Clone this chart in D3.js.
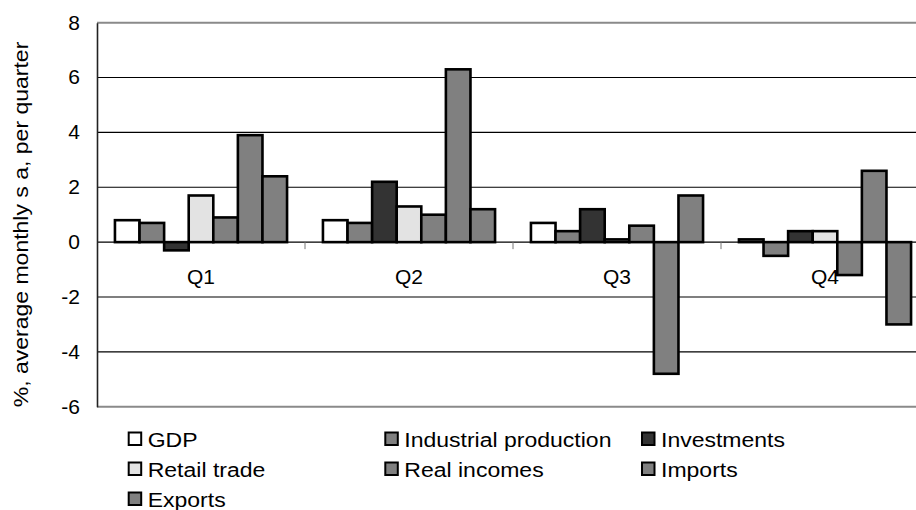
<!DOCTYPE html>
<html>
<head>
<meta charset="utf-8">
<script src="https://cdn.jsdelivr.net/npm/d3@7"></script>
<style>
  html, body { margin: 0; padding: 0; background: #fff; }
  svg { display: block; font-family: "Liberation Sans", Arial, sans-serif; }
</style>
</head>
<body>
<div id="chart"></div>
<script>
// Quarterly growth indicators, grouped bar chart

const quarters = ['Q1', 'Q2', 'Q3', 'Q4'];
const seriesNames = ['GDP', 'Industrial production', 'Investments', 'Retail trade',
                     'Real incomes', 'Imports', 'Exports'];

// values per series, one per quarter
const gdp = [0.8, 0.8, 0.7, 0.1];
const industrialProduction = [0.7, 0.7, 0.4, -0.5];
const investments = [-0.3, 2.2, 1.2, 0.4];
const retailTrade = [1.7, 1.3, 0.1, 0.4];
const realIncomes = [0.9, 1.0, 0.6, -1.2];
const imports = [3.9, 6.3, -4.8, 2.6];
const exportsVals = [2.4, 1.2, 1.7, -3.0];

const yTicks = [-6, -4, -2, 0, 2, 4, 6, 8];

const seriesValues = [gdp, industrialProduction, investments, retailTrade,
                      realIncomes, imports, exportsVals];
const seriesColors = ['#ffffff', '#808080', '#333333', '#e3e3e3', '#808080', '#808080', '#808080'];

const width = 916;
const height = 510;
const margin = { top: 22.7, left: 97, right: -13, bottom: 103.3 };
const fontSize = 20;

const svg = d3.select('#chart')
  .append('svg')
  .attr('width', width)
  .attr('height', height);

const plotW = width - margin.left - margin.right;
const plotH = height - margin.top - margin.bottom;

// widen text a little, the original renderer draws wide glyphs
function stretch(sel, k) {
  sel.each(function () {
    const len = this.getComputedTextLength();
    d3.select(this)
      .attr('textLength', len * k)
      .attr('lengthAdjust', 'spacingAndGlyphs');
  });
}

const x0 = d3.scaleBand()
  .domain(quarters)
  .range([margin.left, margin.left + plotW])
  .padding(0);

const x1 = d3.scaleBand()
  .domain(seriesNames)
  .range([0, x0.bandwidth()])
  .paddingInner(0)
  .paddingOuter(0.73);

const y = d3.scaleLinear()
  .domain([-6, 8])
  .range([margin.top + plotH, margin.top]);

// gridlines
svg.append('g')
  .selectAll('line')
  .data(yTicks.filter(d => d > -6 && d < 8))
  .enter()
  .append('line')
  .attr('x1', margin.left)
  .attr('x2', width)
  .attr('y1', d => y(d))
  .attr('y2', d => y(d))
  .style('stroke', '#000')
  .style('stroke-width', 1.1);

// top and bottom frame
[8, -6].forEach(v => {
  svg.append('line')
    .attr('x1', margin.left)
    .attr('x2', width)
    .attr('y1', y(v))
    .attr('y2', y(v))
    .style('stroke', '#8a8a8a')
    .style('stroke-width', 2);
});

// category tick marks on the zero line
svg.append('g')
  .selectAll('line')
  .data(quarters.slice(1))
  .enter()
  .append('line')
  .attr('x1', d => x0(d))
  .attr('x2', d => x0(d))
  .attr('y1', y(0))
  .attr('y2', y(0) + 7)
  .style('stroke', '#777')
  .style('stroke-width', 1);

// bars
const groups = svg.append('g')
  .selectAll('g')
  .data(quarters)
  .enter()
  .append('g')
  .attr('transform', d => `translate(${x0(d)},0)`);

groups.selectAll('rect')
  .data((q, qi) => seriesNames.map((s, si) => ({ s, si, v: seriesValues[si][qi] })))
  .enter()
  .append('rect')
  .attr('x', d => x1(d.s))
  .attr('width', x1.bandwidth())
  .attr('y', d => y(Math.max(0, d.v)))
  .attr('height', d => Math.abs(y(d.v) - y(0)))
  .style('fill', d => seriesColors[d.si])
  .style('stroke', '#000')
  .style('stroke-width', 2.6);

// y axis
const yAxis = d3.axisLeft(y)
  .tickValues(yTicks)
  .tickFormat(d => String(d))
  .tickSize(0)
  .tickPadding(17);

const yg = svg.append('g')
  .attr('transform', `translate(${margin.left},0)`)
  .call(yAxis);
yg.select('.domain').style('stroke', '#222').style('stroke-width', 1.6);
yg.selectAll('text')
  .style('font-family', '"Liberation Sans", Arial, sans-serif')
  .style('font-size', fontSize + 'px')
  .style('fill', '#000')
  .call(stretch, 1.05);

// category labels
svg.append('g')
  .selectAll('text')
  .data(quarters)
  .enter()
  .append('text')
  .attr('x', d => x0(d) + x0.bandwidth() / 2)
  .attr('y', 283.5)
  .attr('text-anchor', 'middle')
  .style('font-size', fontSize + 'px')
  .text(d => d)
  .call(stretch, 1.05);

// y axis title
svg.append('text')
  .attr('transform', `translate(28,224.5) rotate(-90)`)
  .attr('text-anchor', 'middle')
  .style('font-size', fontSize + 'px')
  .text('%, average monthly s a, per quarter')
  .call(stretch, 1.15);

// legend
const legendCols = [127.7, 384.3, 641];
const legendRows = [446.5, 476.5, 506.5];
const legend = svg.append('g')
  .selectAll('g')
  .data(seriesNames)
  .enter()
  .append('g')
  .attr('transform', (d, i) => `translate(${legendCols[i % 3]},${legendRows[Math.floor(i / 3)]})`);

legend.append('rect')
  .attr('x', 1)
  .attr('y', -14)
  .attr('width', 12.5)
  .attr('height', 12.5)
  .style('fill', (d, i) => seriesColors[i])
  .style('stroke', '#000')
  .style('stroke-width', 2);

legend.append('text')
  .attr('x', 20)
  .attr('y', 0)
  .style('font-size', fontSize + 'px')
  .text(d => d)
  .call(stretch, 1.15);
</script>
</body>
</html>
